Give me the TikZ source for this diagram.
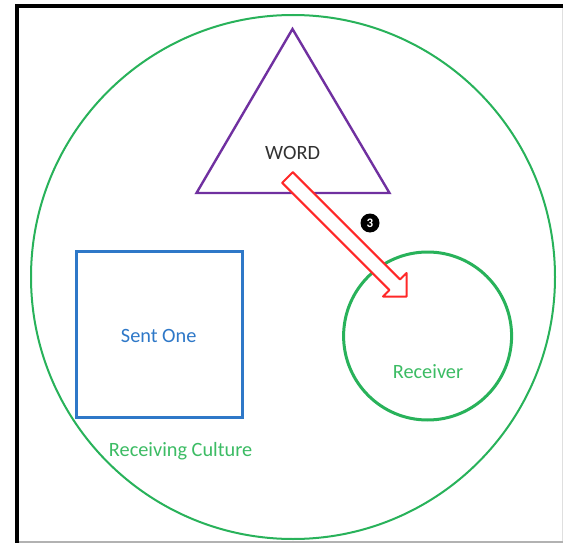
\documentclass[tikz,border=0pt]{standalone}
\usepackage{fontspec}
\setmainfont{Carlito}
\definecolor{cgreen}{RGB}{40,178,90}
\definecolor{tgreen}{RGB}{60,188,100}
\definecolor{cblue}{RGB}{46,120,200}
\definecolor{cpurple}{RGB}{112,48,160}
\definecolor{cred}{RGB}{255,40,40}
\definecolor{ctext}{RGB}{50,50,50}
\tikzset{
  lbl/.style={font=\fontsize{20.3}{24}\selectfont, inner sep=0pt},
  ring/.style={circle, draw=cgreen, inner sep=0pt},
}
\begin{document}
\begin{tikzpicture}[x=1pt,y=-1pt]
\useasboundingbox (0,0) rectangle (563,543);
\fill[white] (0,0) rectangle (563,543);
% frame
\draw[line width=4pt, black] (17,543) -- (17,6) -- (563,6);
\draw[line width=2pt, gray!60] (19,542) -- (563,542);
\draw[line width=1.2pt, gray!25] (562.4,8) -- (562.4,541);
% outer circle
\node[ring, line width=2pt, minimum size=524pt] (culture) at (293,277) {};
% triangle
\draw[cpurple, line width=2.4pt, line join=miter] (292.5,29) -- (389.5,193) -- (196.5,193) -- cycle;
\node[lbl, text=ctext] (word) at (292.6,153) {WORD};
% sent one square
\node[draw=cblue, line width=3pt, minimum width=166.5pt, minimum height=165.5pt, inner sep=0pt] (sent) at (159.25,334.25) {};
\node[lbl, text=cblue] (sentlbl) at (158.7,336) {Sent One};
% receiver circle
\node[ring, line width=3pt, minimum size=168pt] (receiver) at (427.6,336) {};
\node[lbl, text=tgreen] (receiverlbl) at (428,371.5) {Receiver};
% receiving culture label
\node[lbl, text=tgreen] (culturelbl) at (180.6,451.5) {Receiving Culture};
% block arrow
\draw[cred, fill=white, line width=2pt, line join=round]
  (292.8,172.2) -- (400.06,279.46) -- (406.5,273.0) -- (406.5,296.5)
  -- (383.0,296.5) -- (389.46,290.06) -- (282.2,182.8) -- cycle;
% number marker
\node[circle, fill=black, text=white, inner sep=0pt, minimum size=19pt,
      font=\fontsize{13}{14}\selectfont\bfseries] (three) at (370,223) {3};
\end{tikzpicture}
\end{document}
